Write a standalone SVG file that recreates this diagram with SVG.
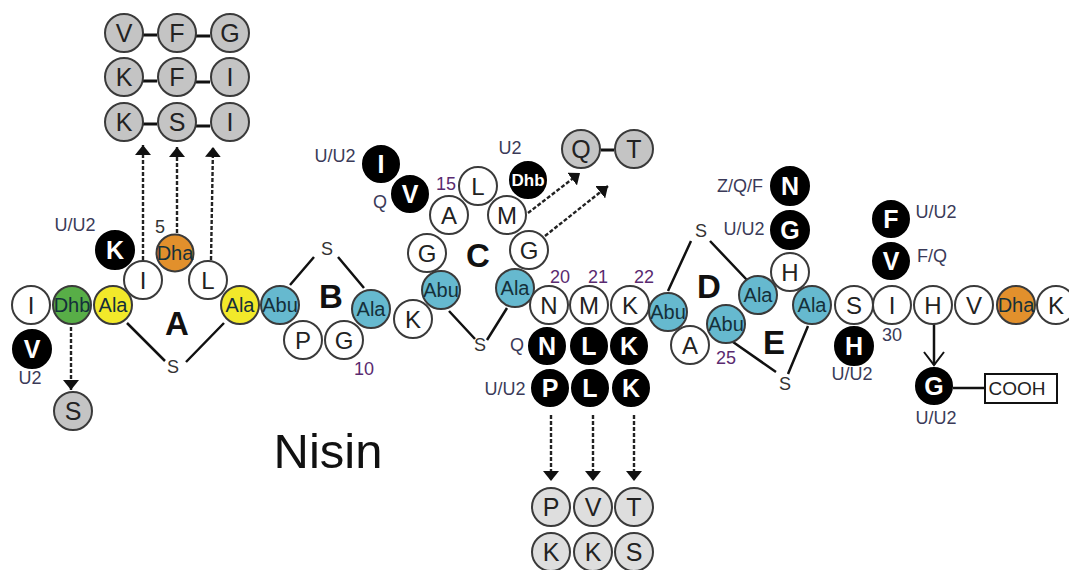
<svg xmlns="http://www.w3.org/2000/svg" width="1069" height="570" viewBox="0 0 1069 570">
<style>
text{font-family:"Liberation Sans",Arial,sans-serif;text-anchor:middle;dominant-baseline:central}
circle{stroke:#3a3a3a;stroke-width:2}
.w circle{fill:#fff}.w text{font-size:24px;fill:#222}
.g circle{fill:#c4c4c4}.g text{font-size:25px;fill:#222}
.l circle{fill:#dedede}.l text{font-size:25px;fill:#222}
.b circle{fill:#000;stroke:#000}.b text{font-size:25px;font-weight:bold;fill:#fff}
.y circle{fill:#f2e92a}.t circle{fill:#66b9cf}.o circle{fill:#e2902c}.n circle{fill:#58ae47}
.y text,.t text,.o text,.n text{font-size:20px;fill:#15303a}
.lab{font-size:18px;fill:#3a3a58}.num{font-size:18px;fill:#5a2a70}.sul{font-size:18px;fill:#333}
.reg{font-size:33px;font-weight:bold;fill:#111}
.solid{stroke:#111;stroke-width:2.5;fill:none}
.thick{stroke:#111;stroke-width:3;fill:none}
.dash{stroke:#222;stroke-width:2.4;stroke-dasharray:4 2;fill:none;marker-end:url(#tri)}
</style>
<defs>
<marker id="tri" markerUnits="userSpaceOnUse" markerWidth="11" markerHeight="16" refX="10" refY="8" orient="auto"><path d="M0 0L10 8L0 16Z" fill="#111"/></marker>
<marker id="open" markerUnits="userSpaceOnUse" markerWidth="16" markerHeight="24" refX="14" refY="12" orient="auto"><path d="M1 2L14 12L1 22" fill="none" stroke="#111" stroke-width="2"/></marker>
</defs>
<g id="connectors">
<path class="thick" d="M143 35H157M196 36H210M143 81H157M196 82H210M143 124H157M196 126H210M601 150H614"/>
<path class="solid" d="M127 323L165 361M186 362L224 323M290 285L314 257M338 257L364 288M449 311L475 339M487 340L507 308M668 291L691 241M710 241L747 280M733 342L776 372M788 374L808 326M953 388H984"/>
<path class="solid" d="M934 324V365" marker-end="url(#open)"/>
<path class="dash" d="M143 260V145"/>
<path class="dash" d="M177 233V147"/>
<path class="dash" d="M211 260L213 147"/>
<path class="dash" d="M71 327V390"/>
<path class="dash" d="M528 213L580 173"/>
<path class="dash" d="M545 236L608 186"/>
<path class="dash" d="M551 415V481"/>
<path class="dash" d="M593 415V481"/>
<path class="dash" d="M634 415V481"/>
</g>
<g id="grey-top">
<g id="v1" class="g"><circle cx="124" cy="33" r="19"/><text x="124" y="33">V</text></g>
<g id="f1" class="g"><circle cx="177" cy="33" r="19"/><text x="177" y="33">F</text></g>
<g id="g1" class="g"><circle cx="230" cy="33" r="19"/><text x="230" y="33">G</text></g>
<g id="k2" class="g"><circle cx="124" cy="77" r="19"/><text x="124" y="77">K</text></g>
<g id="f2" class="g"><circle cx="177" cy="77" r="19"/><text x="177" y="77">F</text></g>
<g id="i2" class="g"><circle cx="230" cy="77" r="19"/><text x="230" y="77">I</text></g>
<g id="k3" class="g"><circle cx="124" cy="122" r="19"/><text x="124" y="122">K</text></g>
<g id="s3" class="g"><circle cx="177" cy="122" r="19"/><text x="177" y="122">S</text></g>
<g id="i3" class="g"><circle cx="230" cy="122" r="19"/><text x="230" y="122">I</text></g>
<g id="gs" class="g"><circle cx="73" cy="411" r="19"/><text x="73" y="411">S</text></g>
<g id="gq" class="g"><circle cx="581" cy="149" r="19"/><text x="581" y="149">Q</text></g>
<g id="gt" class="g"><circle cx="634" cy="149" r="19"/><text x="634" y="149">T</text></g>
</g>
<g id="grey-bottom">
<g id="lp" class="l"><circle cx="551" cy="507" r="19"/><text x="551" y="507">P</text></g>
<g id="lv" class="l"><circle cx="593" cy="507" r="19"/><text x="593" y="507">V</text></g>
<g id="lt" class="l"><circle cx="634" cy="507" r="19"/><text x="634" y="507">T</text></g>
<g id="lk1" class="l"><circle cx="551" cy="552" r="19"/><text x="551" y="552">K</text></g>
<g id="lk2" class="l"><circle cx="593" cy="552" r="19"/><text x="593" y="552">K</text></g>
<g id="ls" class="l"><circle cx="634" cy="552" r="19"/><text x="634" y="552">S</text></g>
</g>
<g id="chain">
<g id="r1" class="w"><circle cx="31" cy="305" r="19"/><text x="31" y="305">I</text></g>
<g id="r2" class="n"><circle cx="72" cy="305" r="19"/><text x="72" y="305">Dhb</text></g>
<g id="r3" class="y"><circle cx="113" cy="305" r="19"/><text x="113" y="305">Ala</text></g>
<g id="r4" class="w"><circle cx="143" cy="280" r="19"/><text x="143" y="280">I</text></g>
<g id="r5" class="o"><circle cx="175" cy="253" r="18.5"/><text x="175" y="253">Dha</text></g>
<g id="r6" class="w"><circle cx="208" cy="280" r="19"/><text x="208" y="280">L</text></g>
<g id="r7" class="y"><circle cx="240" cy="305" r="19"/><text x="240" y="305">Ala</text></g>
<g id="r8" class="t"><circle cx="280" cy="305" r="19"/><text x="280" y="305">Abu</text></g>
<g id="r9" class="w"><circle cx="303" cy="340" r="19"/><text x="303" y="340">P</text></g>
<g id="r10" class="w"><circle cx="344" cy="340" r="19"/><text x="344" y="340">G</text></g>
<g id="r11" class="t"><circle cx="371" cy="309" r="19"/><text x="371" y="309">Ala</text></g>
<g id="r12" class="w"><circle cx="413" cy="319" r="19"/><text x="413" y="319">K</text></g>
<g id="r14" class="w"><circle cx="427" cy="253" r="19"/><text x="427" y="253">G</text></g>
<g id="r13" class="t"><circle cx="441" cy="290" r="19"/><text x="441" y="290">Abu</text></g>
<g id="r15" class="w"><circle cx="449" cy="215" r="19"/><text x="449" y="215">A</text></g>
<g id="r16" class="w"><circle cx="478" cy="186" r="19"/><text x="478" y="186">L</text></g>
<g id="r17" class="w"><circle cx="507" cy="215" r="19"/><text x="507" y="215">M</text></g>
<g id="r18" class="w"><circle cx="529" cy="250" r="19"/><text x="529" y="250">G</text></g>
<g id="r19" class="t"><circle cx="515" cy="288" r="19"/><text x="515" y="288">Ala</text></g>
<g id="r20" class="w"><circle cx="549" cy="305" r="19"/><text x="549" y="305">N</text></g>
<g id="r21" class="w"><circle cx="589" cy="305" r="19"/><text x="589" y="305">M</text></g>
<g id="r22" class="w"><circle cx="630" cy="305" r="19"/><text x="630" y="305">K</text></g>
<g id="r24" class="w"><circle cx="690" cy="345" r="19"/><text x="690" y="345">A</text></g>
<g id="r23" class="t"><circle cx="668" cy="312" r="19"/><text x="668" y="312">Abu</text></g>
<g id="r28" class="w"><circle cx="790" cy="272" r="19"/><text x="790" y="272">H</text></g>
<g id="r26" class="t"><circle cx="758" cy="295" r="19"/><text x="758" y="295">Ala</text></g>
<g id="r25" class="t"><circle cx="726" cy="324" r="19"/><text x="726" y="324">Abu</text></g>
<g id="r27" class="t"><circle cx="812" cy="305" r="19"/><text x="812" y="305">Ala</text></g>
<g id="r29" class="w"><circle cx="854" cy="305" r="19"/><text x="854" y="305">S</text></g>
<g id="r30" class="w"><circle cx="892" cy="305" r="19"/><text x="892" y="305">I</text></g>
<g id="r31" class="w"><circle cx="933" cy="305" r="19"/><text x="933" y="305">H</text></g>
<g id="r32" class="w"><circle cx="974" cy="305" r="19"/><text x="974" y="305">V</text></g>
<g id="r33" class="o"><circle cx="1016" cy="305" r="19"/><text x="1016" y="305">Dha</text></g>
<g id="r34" class="w"><circle cx="1056" cy="305" r="19"/><text x="1056" y="305">K</text></g>
</g>
<g id="mutants">
<g id="mk" class="b"><circle cx="115" cy="250" r="19"/><text x="115" y="250">K</text></g>
<g id="mv" class="b"><circle cx="32" cy="349" r="19"/><text x="32" y="349">V</text></g>
<g id="mi" class="b"><circle cx="381" cy="164" r="18"/><text x="381" y="164">I</text></g>
<g id="mv2" class="b"><circle cx="410" cy="194" r="18"/><text x="410" y="194">V</text></g>
<g id="mdhb" class="b"><circle cx="528" cy="180" r="18"/><text x="528" y="180" style="font-size:17px">Dhb</text></g>
<g id="mn" class="b"><circle cx="547" cy="346" r="18"/><text x="547" y="346">N</text></g>
<g id="ml" class="b"><circle cx="589" cy="346" r="18"/><text x="589" y="346">L</text></g>
<g id="mk2" class="b"><circle cx="629" cy="346" r="18"/><text x="629" y="346">K</text></g>
<g id="mp" class="b"><circle cx="550" cy="388" r="18"/><text x="550" y="388">P</text></g>
<g id="ml2" class="b"><circle cx="590" cy="388" r="18"/><text x="590" y="388">L</text></g>
<g id="mk3" class="b"><circle cx="631" cy="388" r="18"/><text x="631" y="388">K</text></g>
<g id="mn2" class="b"><circle cx="790" cy="186" r="19"/><text x="790" y="186">N</text></g>
<g id="mg" class="b"><circle cx="790" cy="230" r="19"/><text x="790" y="230">G</text></g>
<g id="mf" class="b"><circle cx="891" cy="219" r="18"/><text x="891" y="219">F</text></g>
<g id="mv3" class="b"><circle cx="891" cy="261" r="18"/><text x="891" y="261">V</text></g>
<g id="mh" class="b"><circle cx="854" cy="346" r="19"/><text x="854" y="346">H</text></g>
<g id="mg2" class="b"><circle cx="934" cy="386" r="18"/><text x="934" y="386">G</text></g>
</g>
<g id="cooh"><rect x="985" y="374" width="72" height="29" fill="#fff" stroke="#111" stroke-width="2"/><text x="1017" y="388" style="font-size:19px;fill:#222">COOH</text></g>
<g id="labels">
<text class="lab" x="75" y="225">U/U2</text><text class="sul" x="160" y="227">5</text><text class="lab" x="30" y="378">U2</text>
<text class="lab" x="335" y="156">U/U2</text><text class="lab" x="380" y="202">Q</text><text class="num" x="446" y="184">15</text>
<text class="lab" x="510" y="148">U2</text><text class="num" x="364" y="369">10</text>
<text class="num" x="560" y="277">20</text><text class="num" x="598" y="277">21</text><text class="num" x="644" y="277">22</text>
<text class="lab" x="517" y="345">Q</text><text class="lab" x="505" y="389">U/U2</text>
<text class="lab" x="740" y="186">Z/Q/F</text><text class="lab" x="744" y="229">U/U2</text>
<text class="lab" x="936" y="212">U/U2</text><text class="lab" x="932" y="256">F/Q</text>
<text class="num" x="726" y="358">25</text><text class="lab" x="892" y="335">30</text>
<text class="lab" x="852" y="374">U/U2</text><text class="lab" x="936" y="418">U/U2</text>
<text class="sul" x="173" y="367">S</text><text class="sul" x="327" y="249">S</text><text class="sul" x="480" y="345">S</text><text class="sul" x="701" y="231">S</text><text class="sul" x="785" y="384">S</text>
<text class="reg" x="177" y="323">A</text><text class="reg" x="331" y="296">B</text><text class="reg" x="478" y="255">C</text><text class="reg" x="709" y="286">D</text><text class="reg" x="774" y="342">E</text>
<text x="328" y="451" style="font-size:49px;fill:#111">Nisin</text>
</g>
</svg>
